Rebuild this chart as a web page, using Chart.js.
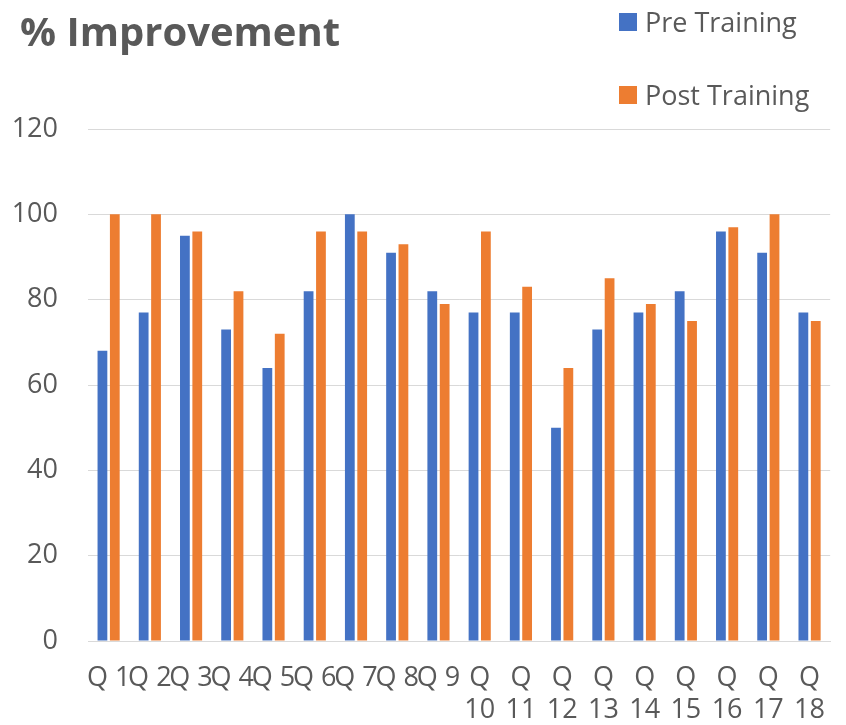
<!DOCTYPE html>
<html>
<head>
<meta charset="utf-8">
<script src="https://cdn.jsdelivr.net/npm/chart.js@4/dist/chart.umd.min.js"></script>
<style>
  html, body { margin: 0; padding: 0; background: #fff; }
  #wrap { position: relative; width: 846px; height: 725px; }
  #c { position: absolute; left: 0; top: 0; }
  .lg-box { position: absolute; width: 18px; height: 18px; }
  .lg-txt { position: absolute; font-family: "Open Sans", sans-serif; font-size: 27px; line-height: 27px; color: #595959; white-space: nowrap; }
</style>
</head>
<body>
<div id="wrap">
  <canvas id="c" width="846" height="725"></canvas>
</div>
<script>
// ---- data ----
const categories = ['Q 1','Q 2','Q 3','Q 4','Q 5','Q 6','Q 7','Q 8','Q 9',
  ['Q','10'],['Q','11'],['Q','12'],['Q','13'],['Q','14'],['Q','15'],['Q','16'],['Q','17'],['Q','18']];
const preTraining  = [68, 77, 95, 73, 64, 82, 100, 91, 82, 77, 77, 50, 73, 77, 82, 96, 91, 77];
const postTraining = [100, 100, 96, 82, 72, 96, 96, 93, 79, 96, 83, 64, 85, 79, 75, 97, 100, 75];
const seriesNames = ['Pre Training', 'Post Training'];
const yTicks = [0, 20, 40, 60, 80, 100, 120];
const titleText = '% Improvement';

const colors = ['#4472C4', '#ED7D31'];
const textColor = '#595959';

const titleShift = {
  id: 'titleShift',
  afterLayout(chart) { if (chart.titleBlock) { chart.titleBlock.left += 20; } }
};

const chart = new Chart(document.getElementById('c'), {
  type: 'bar',
  data: {
    labels: categories,
    datasets: [
      { label: seriesNames[0], data: preTraining, backgroundColor: colors[0], categoryPercentage: 0.6, barPercentage: 0.79 },
      { label: seriesNames[1], data: postTraining, backgroundColor: colors[1], categoryPercentage: 0.6, barPercentage: 0.79 }
    ]
  },
  plugins: [titleShift],
  options: {
    responsive: false,
    animation: false,
    layout: { padding: { left: 0, right: 0, top: 0, bottom: 0 } },
    plugins: {
      legend: { display: false },
      tooltip: { enabled: false },
      title: {
        display: true,
        text: titleText,
        align: 'start',
        color: textColor,
        font: { family: 'Open Sans', size: 40, weight: 'bold', lineHeight: 1.2 },
        padding: { top: 11, bottom: 70 }
      }
    },
    scales: {
      x: {
        grid: { display: false, drawTicks: false },
        border: { display: true, color: '#D9D9D9', width: 1 },
        ticks: {
          autoSkip: false, maxRotation: 0, minRotation: 0,
          color: textColor,
          font: { family: 'Open Sans', size: 27, lineHeight: 1.2 },
          padding: 21
        },
        afterFit: s => { s.height = 84; }
      },
      y: {
        min: 0, max: 120,
        afterBuildTicks: s => { s.ticks = yTicks.map(v => ({ value: v })); },
        grid: { color: '#D9D9D9', lineWidth: 1, drawTicks: false },
        border: { display: false },
        ticks: {
          color: textColor,
          font: { family: 'Open Sans', size: 27 },
          padding: 30
        },
        afterFit: s => { s.width = 88; }
      }
    }
  }
});

// legend (HTML, built from the dataset names/colours)
const wrap = document.getElementById('wrap');
const legendTops = [13, 86];
seriesNames.forEach((name, i) => {
  const b = document.createElement('div');
  b.className = 'lg-box';
  b.style.left = '619px';
  b.style.top = legendTops[i] + 'px';
  b.style.background = colors[i];
  wrap.appendChild(b);
  const t = document.createElement('div');
  t.className = 'lg-txt';
  t.style.left = '645px';
  t.style.top = (legendTops[i] - 5) + 'px';
  t.textContent = name;
  wrap.appendChild(t);
});
</script>
</body>
</html>
